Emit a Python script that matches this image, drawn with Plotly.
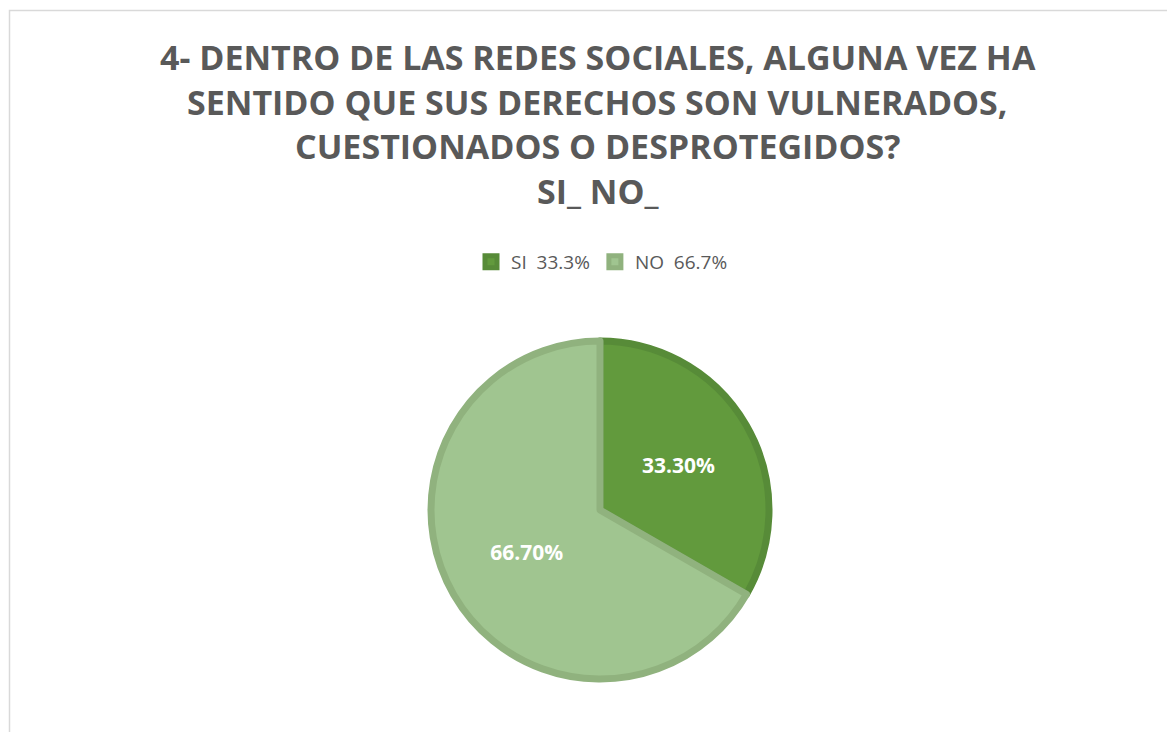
import plotly.graph_objects as go

categories = ["SI", "NO"]
values = [33.3, 66.7]
fill_colors = ["#629A3D", "#A0C590"]
edge_colors = ["#578B38", "#90B27E"]
title_lines = [
    "4- DENTRO DE LAS REDES SOCIALES, ALGUNA VEZ HA",
    "SENTIDO QUE SUS DERECHOS SON VULNERADOS,",
    "CUESTIONADOS O DESPROTEGIDOS?",
    "SI_ NO_",
]

W, H = 1175, 732
OFF = 8  # page body margin
legend_labels = [f"{c}  {v:.1f}%" for c, v in zip(categories, values)]

def px(x):
    return (x - OFF) / W

def py(y):
    return 1 - (y - OFF) / H

fig = go.Figure()
fig.add_trace(go.Pie(
    labels=legend_labels,
    values=values,
    sort=False,
    direction="clockwise",
    rotation=0,
    marker=dict(colors=fill_colors, line=dict(color=edge_colors, width=7)),
    texttemplate="%{value:.2f}%",
    textposition="inside",
    insidetextorientation="horizontal",
    textfont=dict(family="Open Sans", size=21, color="white", weight="bold"),
    domain=dict(x=[px(431), px(769)], y=[py(679), py(341)]),
    hoverinfo="label+percent",
))

title_y = [57, 102, 146, 191]
for line, y in zip(title_lines, title_y):
    fig.add_annotation(
        text=f"<b>{line}</b>", x=px(598), y=py(y), xref="paper", yref="paper",
        xanchor="center", yanchor="middle", showarrow=False,
        font=dict(family="Open Sans", size=34, color="#595959"),
    )

fig.add_shape(type="rect", xref="paper", yref="paper",
              x0=px(9.5), x1=1.2, y0=-0.2, y1=py(10.5),
              line=dict(color="#D9D9D9", width=1.5), fillcolor="rgba(0,0,0,0)", layer="below")

fig.update_layout(
    width=W, height=H,
    margin=dict(l=0, r=0, t=0, b=0),
    paper_bgcolor="white", plot_bgcolor="white",
    showlegend=True,
    legend=dict(orientation="h", x=px(602), xanchor="center", y=py(243), yanchor="top",
                font=dict(family="Open Sans", size=19, color="#595959"),
                itemwidth=30, traceorder="normal"),
)

fig.write_html("out.html")
